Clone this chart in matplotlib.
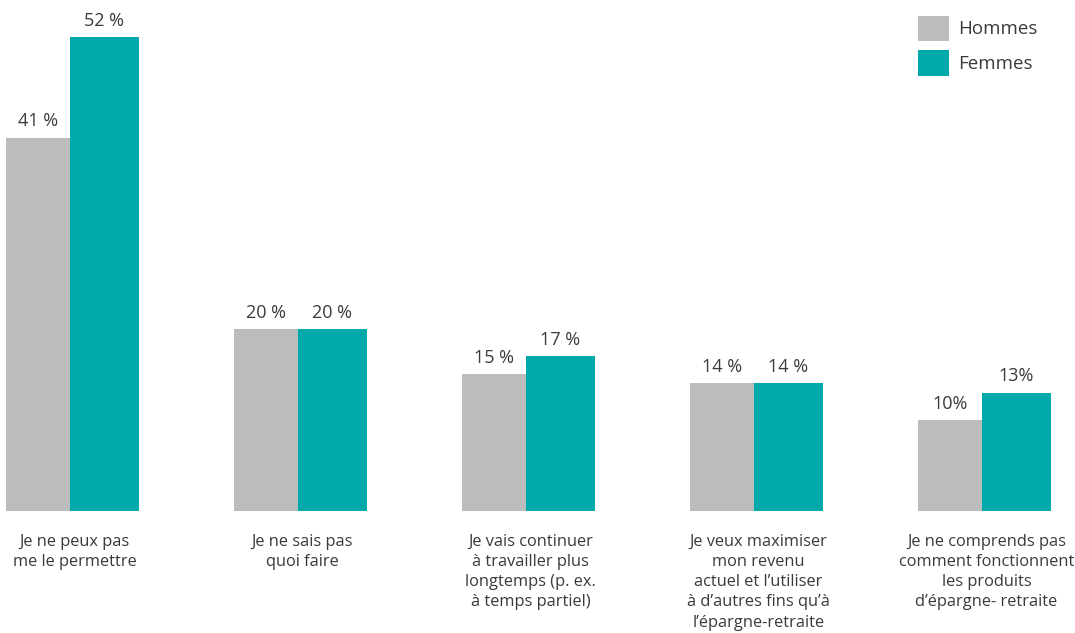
import matplotlib.pyplot as plt
import numpy as np

plt.rcParams['font.family'] = ['Open Sans', 'DejaVu Sans']

categories = [
    "Je ne peux pas\nme le permettre",
    "Je ne sais pas\nquoi faire",
    "Je vais continuer\nà travailler plus\nlongtemps (p. ex.\nà temps partiel)",
    "Je veux maximiser\nmon revenu\nactuel et l’utiliser\nà d’autres fins qu’à\nl’épargne-retraite",
    "Je ne comprends pas\ncomment fonctionnent\nles produits\nd’épargne- retraite",
]
hommes = [41, 20, 15, 14, 10]
femmes = [52, 20, 17, 14, 13]
hommes_labels = ["41 %", "20 %", "15 %", "14 %", "10%"]
femmes_labels = ["52 %", "20 %", "17 %", "14 %", "13%"]

grey = '#bbbcbc'
teal = '#00aaaa'
txt = '#3a3a3a'

fig = plt.figure(figsize=(10.75, 6.33), dpi=100)
ax = fig.add_axes([0, 122 / 633, 1, 501 / 633])

x = np.arange(len(categories))
wg = 64 / 228
wt = 69 / 228
ax.bar(x - wg, hommes, width=wg, align='edge', color=grey, label='Hommes')
ax.bar(x, femmes, width=wt, align='edge', color=teal, label='Femmes')

for i in range(len(x)):
    ax.text(x[i] - wg / 2, hommes[i] + 0.8, hommes_labels[i], ha='center', va='bottom',
            fontsize=13, color=txt)
    ax.text(x[i] + wt / 2, femmes[i] + 0.8, femmes_labels[i], ha='center', va='bottom',
            fontsize=13, color=txt)
    ax.text(x[i] + 0.02, -2.55, categories[i], ha='center', va='top', fontsize=11.8,
            color=txt, linespacing=1.34, clip_on=False)

ax.set_xlim(-70 / 228, (1075 - 70) / 228)
ax.set_ylim(0, 55)
ax.axis('off')

leg = ax.legend(loc='upper right', bbox_to_anchor=(1045 / 1075, 1.0 + 2 / 501),
                frameon=False, fontsize=13.5, handlelength=1.65, handleheight=1.7,
                handletextpad=0.5, labelspacing=0.5, borderaxespad=0)
for t in leg.get_texts():
    t.set_color(txt)

fig.savefig('out.png', dpi=100, facecolor='white')
